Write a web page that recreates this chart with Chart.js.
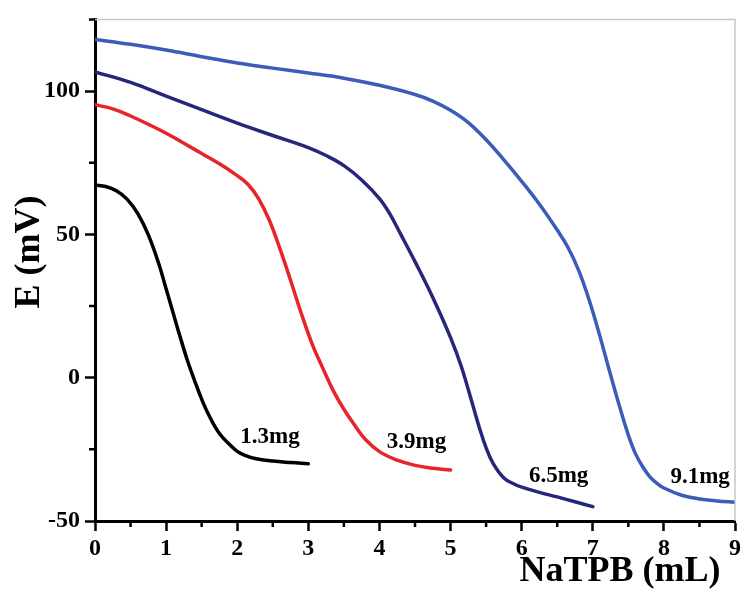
<!DOCTYPE html>
<html>
<head>
<meta charset="utf-8">
<script src="https://cdn.jsdelivr.net/npm/chart.js@4.4.1/dist/chart.umd.min.js"></script>
<style>
    html, body { margin: 0; padding: 0; background: #fff; }
    canvas { display: block; }
</style>
</head>
<body>
<canvas id="myChart" width="744" height="595"></canvas>
<script>
// NaTPB volume (mL) vs potential E (mV), one curve per sample mass
const xBlack = [0, 0.15, 0.3, 0.45, 0.6, 0.75, 0.9, 1.0, 1.1, 1.2, 1.3, 1.4, 1.5, 1.6, 1.75, 1.9, 2.0, 2.1, 2.25, 2.5, 2.75, 3.0];
const yBlack = [67.2, 66.7, 65.2, 62.3, 57.3, 49.8, 39.5, 31, 22.5, 14, 6, -1, -7.5, -13, -19.5, -23.5, -25.7, -27, -28.2, -29.1, -29.6, -30];

const xRed = [0, 0.25, 0.5, 0.75, 1.0, 1.25, 1.5, 1.75, 2.0, 2.15, 2.3, 2.45, 2.6, 2.75, 2.9, 3.05, 3.2, 3.35, 3.5, 3.65, 3.8, 4.0, 4.25, 4.5, 4.75, 5.0];
const yRed = [95.2, 93.8, 91.3, 88.4, 85.3, 81.8, 78.2, 74.6, 70.5, 67.5, 62.5, 55, 45, 34, 22.5, 12, 3.5, -4.5, -11, -16.5, -21.5, -25.8, -28.8, -30.6, -31.6, -32.2];

const xNavy = [0, 0.5, 1.0, 1.5, 2.0, 2.5, 3.0, 3.25, 3.5, 3.75, 4.0, 4.15, 4.3, 4.5, 4.75, 5.0, 5.15, 5.3, 5.4, 5.5, 5.6, 5.75, 5.9, 6.0, 6.25, 6.5, 6.75, 7.0];
const yNavy = [106.7, 103, 98.2, 93.5, 88.8, 84.5, 80.3, 77.5, 74, 69, 62.5, 57, 50, 40.5, 28, 14, 4, -8.5, -17, -24.5, -30, -35, -37.2, -38.2, -40, -41.6, -43.3, -45];

const xBlue = [0, 0.5, 1.0, 1.5, 2.0, 2.5, 3.0, 3.5, 4.0, 4.5, 4.75, 5.0, 5.25, 5.5, 5.75, 6.0, 6.25, 6.5, 6.65, 6.8, 6.95, 7.1, 7.25, 7.4, 7.5, 7.6, 7.7, 7.8, 7.9, 8.0, 8.25, 8.5, 8.75, 9.0];
const yBlue = [118, 116.3, 114.3, 112, 109.8, 108, 106.3, 104.5, 102, 98.8, 96.5, 93.3, 89, 83, 76, 68.5, 60.5, 51.5, 45.5, 37.5, 27, 14.5, 1, -12, -20, -26.5, -31, -34.5, -36.8, -38.5, -41, -42.3, -43, -43.5];

const massLabels = ['1.3mg', '3.9mg', '6.5mg', '9.1mg'];
const massLabelX = [2.46, 4.52, 6.52, 8.51];
const massLabelY = [-20.6, -22.3, -34.4, -34.7];

const xTicks = [0, 1, 2, 3, 4, 5, 6, 7, 8, 9];
const xMinorTicks = [0.5, 1.5, 2.5, 3.5, 4.5, 5.5, 6.5, 7.5, 8.5];
const yTicks = [-50, 0, 50, 100];
const yMinorTicks = [-25, 25, 75, 125];

const xTitle = 'NaTPB (mL)';
const yTitle = 'E (mV)';

function pts(xs, ys) {
    return xs.map((x, i) => ({x: x, y: ys[i]}));
}

const serif = '"Liberation Serif", "Times New Roman", serif';

const extras = {
    id: 'extras',
    afterDraw(chart) {
        const ctx = chart.ctx;
        const a = chart.chartArea;
        const sx = chart.scales.x;
        const sy = chart.scales.y;
        ctx.save();

        // light frame top and right
        ctx.strokeStyle = '#c6c6c6';
        ctx.lineWidth = 1.5;
        ctx.beginPath();
        ctx.moveTo(a.left, a.top);
        ctx.lineTo(a.right, a.top);
        ctx.lineTo(a.right, a.bottom);
        ctx.stroke();

        // minor ticks
        ctx.strokeStyle = '#000';
        ctx.lineWidth = 2.5;
        ctx.beginPath();
        xMinorTicks.forEach(v => {
            const p = sx.getPixelForValue(v);
            ctx.moveTo(p, a.bottom);
            ctx.lineTo(p, a.bottom + 6);
        });
        yMinorTicks.forEach(v => {
            const p = sy.getPixelForValue(v);
            ctx.moveTo(a.left, p);
            ctx.lineTo(a.left - 6, p);
        });
        ctx.stroke();

        // curve labels
        ctx.fillStyle = '#000';
        ctx.font = 'bold 23px ' + serif;
        ctx.textAlign = 'center';
        ctx.textBaseline = 'middle';
        massLabels.forEach((t, i) => {
            ctx.fillText(t, sx.getPixelForValue(massLabelX[i]), sy.getPixelForValue(massLabelY[i]));
        });

        // axis titles
        ctx.font = 'bold 36px ' + serif;
        ctx.fillText(xTitle, 620, 572);
        ctx.translate(30, 252);
        ctx.rotate(-Math.PI / 2);
        ctx.fillText(yTitle, 0, 0);
        ctx.restore();
    }
};

const ctx = document.getElementById('myChart').getContext('2d');
const myChart = new Chart(ctx, {
    type: 'line',
    data: {
        datasets: [
            {label: '1.3mg', data: pts(xBlack, yBlack), borderColor: '#000000'},
            {label: '3.9mg', data: pts(xRed, yRed), borderColor: '#e8242b'},
            {label: '6.5mg', data: pts(xNavy, yNavy), borderColor: '#26277a'},
            {label: '9.1mg', data: pts(xBlue, yBlue), borderColor: '#3b5cb8'}
        ]
    },
    options: {
        responsive: false,
        animation: false,
        devicePixelRatio: 1,
        layout: {padding: {top: 14, right: 7, left: 0, bottom: 0}},
        elements: {
            line: {borderWidth: 3.5, tension: 0.4, fill: false, borderCapStyle: 'round', borderJoinStyle: 'round'},
            point: {radius: 0, hoverRadius: 0}
        },
        plugins: {
            legend: {display: false},
            tooltip: {enabled: false}
        },
        scales: {
            x: {
                type: 'linear',
                min: 0,
                max: 9,
                afterFit: s => { s.height = 74; },
                afterBuildTicks: s => { s.ticks = xTicks.map(v => ({value: v})); },
                border: {color: '#000', width: 3},
                grid: {drawOnChartArea: false, drawTicks: true, tickLength: 10, tickWidth: 2.5, tickColor: '#000'},
                ticks: {color: '#000', padding: 3, maxRotation: 0, font: {family: serif, size: 24, weight: 'bold'}}
            },
            y: {
                type: 'linear',
                min: -50,
                max: 125,
                afterFit: s => { s.width = 95; },
                afterBuildTicks: s => { s.ticks = yTicks.map(v => ({value: v})); },
                border: {color: '#000', width: 3},
                grid: {drawOnChartArea: false, drawTicks: true, tickLength: 10, tickWidth: 2.5, tickColor: '#000'},
                ticks: {color: '#000', padding: 5, font: {family: serif, size: 24, weight: 'bold'}}
            }
        }
    },
    plugins: [extras]
});
</script>
</body>
</html>
